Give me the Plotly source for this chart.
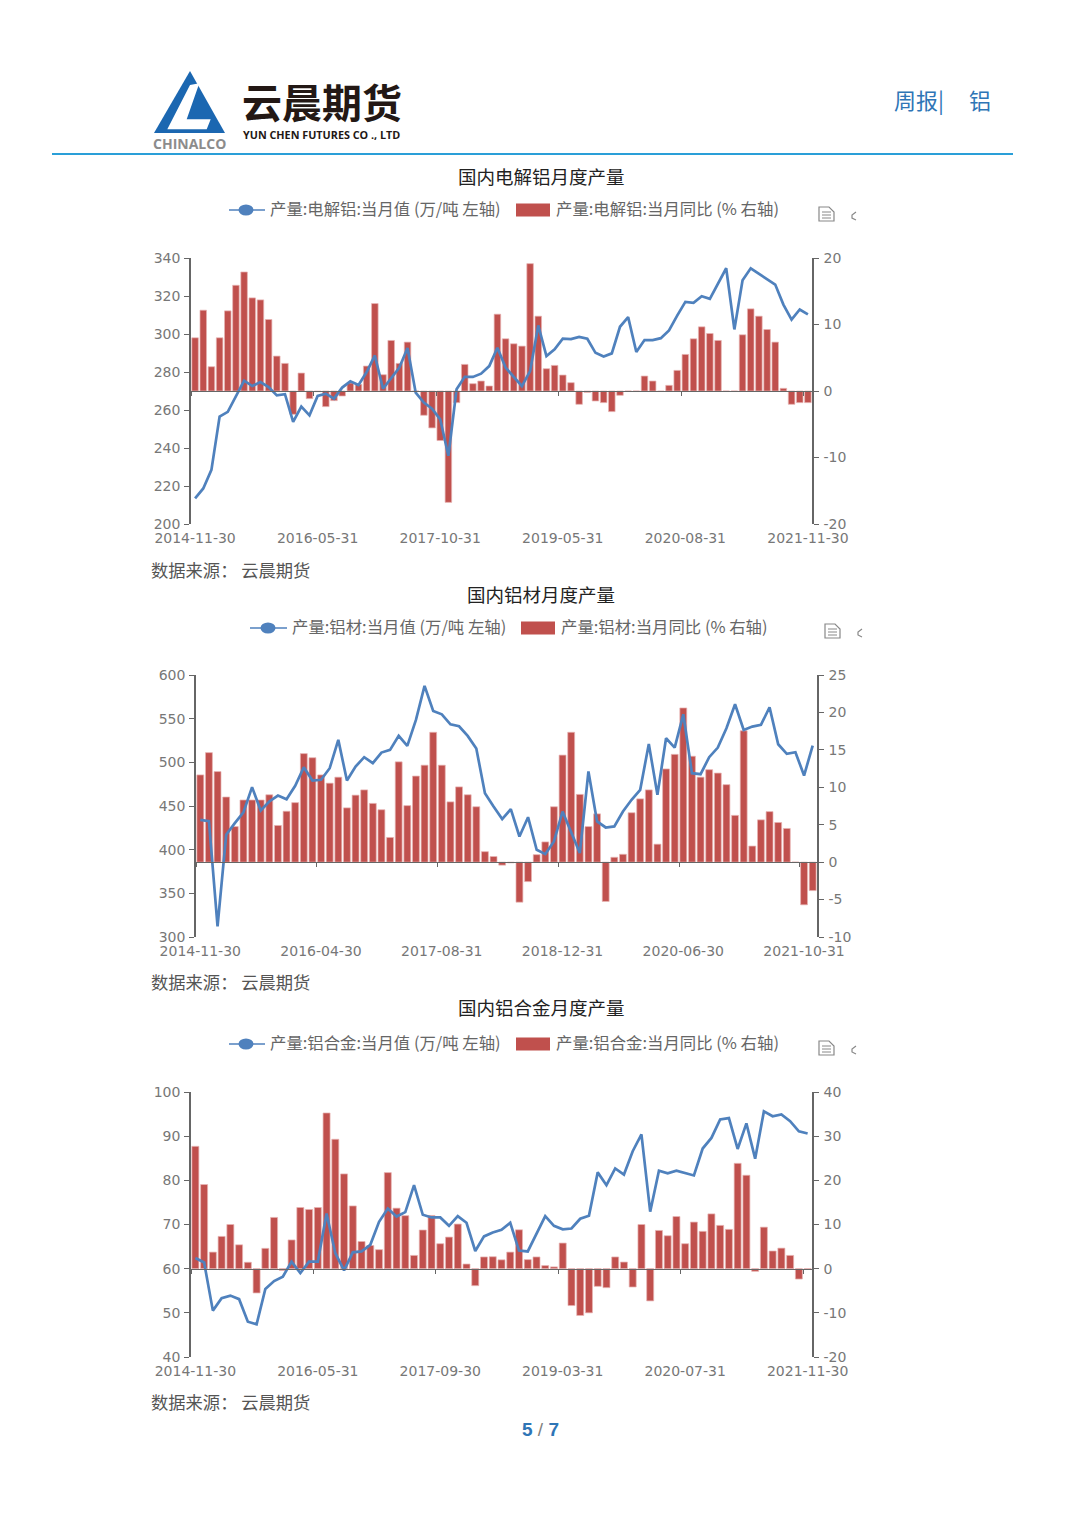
import plotly.graph_objects as go

W, H = 1080, 1526

# ---------- data ----------
cats_smelter = ["2014-11-30","2014-12-31","2015-03-31","2015-04-30","2015-05-31","2015-06-30","2015-07-31","2015-08-31","2015-09-30","2015-10-31","2015-11-30","2015-12-31",
 "2016-02-29","2016-03-31","2016-04-30","2016-05-31","2016-06-30","2016-07-31","2016-08-31","2016-09-30","2016-10-31","2016-11-30","2016-12-31",
 "2017-03-31","2017-04-30","2017-05-31","2017-06-30","2017-07-31","2017-08-31","2017-09-30","2017-10-31","2017-11-30","2017-12-31",
 "2018-03-31","2018-04-30","2018-05-31","2018-06-30","2018-07-31","2018-08-31","2018-09-30","2018-10-31","2018-11-30","2018-12-31",
 "2019-03-31","2019-04-30","2019-05-31","2019-06-30","2019-07-31","2019-08-31","2019-09-30","2019-10-31","2019-11-30","2019-12-31",
 "2020-01-31","2020-02-29","2020-03-31","2020-04-30","2020-05-31","2020-06-30","2020-07-31","2020-08-31","2020-09-30","2020-10-31","2020-11-30","2020-12-31",
 "2021-01-31","2021-02-28","2021-03-31","2021-04-30","2021-05-31","2021-06-30","2021-07-31","2021-08-31","2021-09-30","2021-10-31","2021-11-30"]
smelter_value = [213.5,218.7,228.5,256.5,259,267.4,275.4,272.6,274.7,272.1,267.7,268.3,253.7,261.8,257.2,267.4,268.6,266,271.8,275.1,273.2,280,288.7,271.2,277,282.3,292.6,269.1,263.9,260.7,255.1,235.9,270.9,277.5,277.4,279.1,283.1,292.8,
 282.3,277.5,272.6,280.5,304.5,288.4,291.9,297.5,297.3,298.5,297.5,290.1,288.2,289.8,303.8,308.9,290.5,296.8,296.8,297.8,301.9,309.7,316.9,316.4,319.9,318.5,326.9,334.6,302.4,328.3,334.6,331.8,329,326,315.5,307.6,312.9,310.3]
smelter_yoy = [8.0,12.15,3.65,8.0,12.05,15.9,17.9,14.0,13.7,10.75,5.25,4.15,-3.5,2.7,-1.15,-0.1,-2.35,-1.45,-0.75,1.2,1.0,3.75,13.15,2.45,7.6,4.15,7.35,0,-3.65,-5.55,-7.45,-16.75,-1.75,4.0,1.1,1.5,0.75,11.55,
 7.85,7.1,6.75,19.15,11.25,3.35,3.85,2.4,1.25,-2.0,-0.2,-1.5,-1.75,-3.1,-0.65,0,0,2.25,1.5,-0.05,0.85,3.1,5.5,7.85,9.65,8.65,7.6,0,0,8.45,12.35,11.25,9.25,7.35,0.4,-2.0,-1.75,-1.75]

cats_profile = ["2014-11-30","2014-12-31","2015-03-31","2015-04-30","2015-05-31","2015-06-30","2015-07-31","2015-08-31","2015-09-30","2015-10-31","2015-11-30","2015-12-31",
 "2016-02-29","2016-03-31","2016-04-30","2016-05-31","2016-06-30","2016-07-31","2016-08-31","2016-09-30","2016-10-31","2016-11-30","2016-12-31",
 "2017-03-31","2017-04-30","2017-05-31","2017-06-30","2017-07-31","2017-08-31","2017-09-30","2017-10-31","2017-11-30","2017-12-31",
 "2018-03-31","2018-04-30","2018-05-31","2018-06-30","2018-07-31","2018-08-31","2018-09-30","2018-10-31","2018-11-30","2018-12-31",
 "2019-03-31","2019-04-30","2019-05-31","2019-06-30","2019-07-31","2019-08-31","2019-09-30","2019-10-31","2019-11-30","2019-12-31",
 "2020-03-31","2020-04-30","2020-05-31","2020-06-30","2020-07-31","2020-08-31","2020-09-30","2020-10-31","2020-11-30","2020-12-31",
 "2021-03-31","2021-04-30","2021-05-31","2021-06-30","2021-07-31","2021-08-31","2021-09-30","2021-10-31","2021-11-30"]
profile_value = [434.2,432.7,312.2,417,430.4,442.6,471.6,444.9,455.2,462,457.8,473.1,494.4,479.2,480,493.3,525.7,479.2,495.2,505.9,499,511.2,514.3,530.3,518.8,548.6,587.5,558.9,555,543.6,541.3,530.3,515.8,464.7,449.4,
 435,446.4,415.1,437.2,399.9,394.9,409.4,443.7,420.9,396.1,489.5,432.3,425.4,426.6,443.7,457.1,468.5,521.1,462.8,527.6,516.9,555,487.6,486.4,505.9,516.9,539,566.5,537.1,540.9,542.9,563.1,520.7,509.7,511.6,484.9,519.2]
profile_yoy = [11.65,14.63,12.1,8.7,4.75,8.3,8.3,8.3,9.0,4.9,6.8,7.95,14.5,13.95,11.65,10.55,11.35,7.25,8.95,9.65,7.85,7.0,3.3,13.4,7.55,11.5,12.95,17.35,12.95,8.05,10.05,9.0,7.4,1.4,0.75,
 -0.4,-0.1,-5.35,-2.6,1.0,2.7,7.4,14.3,17.35,9.05,4.75,6.45,-5.25,0.65,1.05,6.6,8.45,9.65,2.4,12.45,14.4,20.6,14.15,11.35,12.35,11.9,10.35,6.25,17.55,2.15,5.65,6.75,5.3,4.5,0,-5.7,-3.8]

cats_alloy = ["2014-11-30","2014-12-31","2015-03-31","2015-04-30","2015-05-31","2015-06-30","2015-07-31","2015-08-31","2015-09-30","2015-10-31","2015-11-30","2015-12-31",
 "2016-03-31","2016-04-30","2016-05-31","2016-06-30","2016-07-31","2016-08-31","2016-09-30","2016-10-31","2016-11-30","2016-12-31",
 "2017-03-31","2017-04-30","2017-05-31","2017-06-30","2017-07-31","2017-08-31","2017-09-30","2017-10-31","2017-11-30","2017-12-31",
 "2018-03-31","2018-04-30","2018-05-31","2018-06-30","2018-07-31","2018-08-31","2018-09-30","2018-10-31","2018-11-30","2018-12-31",
 "2019-03-31","2019-04-30","2019-05-31","2019-06-30","2019-07-31","2019-08-31","2019-09-30","2019-10-31","2019-11-30","2019-12-31",
 "2020-03-31","2020-04-30","2020-05-31","2020-06-30","2020-07-31","2020-08-31","2020-09-30","2020-10-31","2020-11-30","2020-12-31",
 "2021-03-31","2021-04-30","2021-05-31","2021-06-30","2021-07-31","2021-08-31","2021-09-30","2021-10-31","2021-11-30"]
alloy_value = [62.4,61.4,50.5,53.3,53.9,53.1,48,47.4,55.4,57.2,58.2,61.6,59,61.6,61.6,72.5,63.5,59.6,63.7,63.9,65.4,70.6,73.6,71.8,72.8,78.9,72.2,71.6,71.6,69.7,71.9,70.4,64,67.3,68.2,
 68.8,70.4,64.1,63.9,68,71.9,69.7,68.9,69.1,71.3,72,81.8,78.9,82.7,81.3,86.6,90.4,72.9,82.2,81.6,82.2,81.6,81.1,87.2,89.6,93.8,94.1,87.1,92.9,84.9,95.6,94.5,94.9,93.4,91.1,90.6]
alloy_yoy = [27.7,19.05,3.75,7.3,10.0,5.4,1.45,-5.5,4.6,11.6,-0.4,6.5,13.85,13.4,13.85,35.25,29.3,21.45,14.2,6.15,5.25,4.3,21.75,13.7,12.0,3.0,8.75,12.05,5.65,7.15,10.1,1.05,-3.85,2.65,2.7,
 2.0,3.75,8.8,2.05,2.65,0.7,0.4,5.8,-8.35,-10.6,-10.0,-4.0,-4.3,2.65,1.5,-4.15,10,-7.3,8.65,7.45,11.8,5.65,10.55,8.45,12.4,9.8,8.9,23.85,21.15,-0.6,9.4,4.0,4.65,3.0,-2.35,-0.15]

ticks_smelter = ["2014-11-30","2016-05-31","2017-10-31","2019-05-31","2020-08-31","2021-11-30"]
ticks_profile = ["2014-11-30","2016-04-30","2017-08-31","2018-12-31","2020-06-30","2021-10-31"]
ticks_alloy = ["2014-11-30","2016-05-31","2017-09-30","2019-03-31","2020-07-31","2021-11-30"]

titles = ["国内电解铝月度产量", "国内铝材月度产量", "国内铝合金月度产量"]
legend_line = ["产量:电解铝:当月值 (万/吨 左轴)", "产量:铝材:当月值 (万/吨 左轴)", "产量:铝合金:当月值 (万/吨 左轴)"]
legend_bar = ["产量:电解铝:当月同比 (% 右轴)", "产量:铝材:当月同比 (% 右轴)", "产量:铝合金:当月同比 (% 右轴)"]
source_text = "数据来源： 云晨期货"

# ---------- styling / layout ----------
BLUE, RED, AXIS, TXT = "#4F81BD", "#C0504D", "#666666", "#777777"
TICKFONT = dict(family="DejaVu Sans", size=14, color=TXT)
CJK = "Noto Sans CJK SC"

def px(x): return x / W
def py(y): return 1 - y / H
def path(pts, close=True):
    d = "M" + " L".join(f"{px(x):.5f},{py(y):.5f}" for x, y in pts)
    return d + (" Z" if close else "")

charts = [
 dict(cats=cats_smelter, val=smelter_value, yoy=smelter_yoy, ticks=ticks_smelter, step=15,
      box=(191, 812, 258, 524), left=(200, 340, 20), right=(-20, 20, 10),
      ty=176, ly=210, sy=569, sw=(229, 265, 246, 268, 516, 550, 554), icon=(826, 214)),
 dict(cats=cats_profile, val=profile_value, yoy=profile_yoy, ticks=ticks_profile, step=14,
      box=(196, 817, 675, 937), left=(300, 600, 50), right=(-10, 25, 5),
      ty=594, ly=628, sy=982, sw=(250, 287, 268, 290, 521, 555, 559), icon=(832, 631)),
 dict(cats=cats_alloy, val=alloy_value, yoy=alloy_yoy, ticks=ticks_alloy, step=14,
      box=(191, 812, 1092, 1357), left=(40, 100, 10), right=(-20, 40, 10),
      ty=1007, ly=1044, sy=1401, sw=(229, 265, 246, 268, 516, 550, 554), icon=(826, 1048)),
]

fig = go.Figure()
layout = {}
shapes, annos = [], []

def text(x, y, s, size, color, anchor="left", family=CJK):
    annos.append(dict(x=px(x), y=py(y), xref="paper", yref="paper", text=s, showarrow=False,
                      xanchor=anchor, yanchor="middle", align=anchor,
                      font=dict(family=family, size=size, color=color)))

def yticks(lo, hi, step):
    vals = list(range(lo, hi + 1, step))
    return dict(tickmode="array", tickvals=vals, ticktext=[str(v) for v in vals])

for c, ch in enumerate(charts):
    b, l = 2 * c + 1, 2 * c + 2
    n = len(ch["cats"])
    x0, x1, y0, y1 = ch["box"]
    rlo, rhi, rstep = ch["right"]
    llo, lhi, lstep = ch["left"]
    zero_y = y1 - (0 - rlo) / (rhi - rlo) * (y1 - y0)
    fig.add_trace(go.Bar(x=ch["cats"], y=ch["yoy"], name=legend_bar[c], xaxis=f"x{b}", yaxis=f"y{b}",
                         marker=dict(color=RED, line=dict(color="rgba(232,180,178,0.9)", width=0.8)),
                         width=0.8, showlegend=False))
    fig.add_trace(go.Scatter(x=ch["cats"], y=ch["val"], name=legend_line[c], xaxis=f"x{l}", yaxis=f"y{l}",
                             mode="lines", line=dict(color=BLUE, width=2.7), showlegend=False))
    dom_x = [px(x0), px(x1)]
    dom_y = [py(y1), py(y0)]
    edge_ticks = [i * ch["step"] - 0.5 for i in range(6)]
    layout[f"xaxis{b}"] = dict(domain=dom_x, type="category", categoryorder="array", categoryarray=ch["cats"],
                               range=[-0.5, n - 0.5], anchor="free", position=py(zero_y), automargin=False,
                               showgrid=False, showline=True, linecolor=AXIS, linewidth=1,
                               tickmode="array", tickvals=edge_ticks, ticks="outside", ticklen=4,
                               tickcolor=AXIS, showticklabels=False, zeroline=False)
    layout[f"xaxis{l}"] = dict(domain=dom_x, type="category", categoryorder="array", categoryarray=ch["cats"],
                               range=[-0.5, n - 0.5], anchor=f"y{l}", overlaying=f"x{b}", automargin=False,
                               showgrid=False, showline=False, tickmode="array", tickvals=ch["ticks"],
                               ticktext=ch["ticks"], ticks="", tickangle=0, tickfont=TICKFONT, zeroline=False,
                               ticklabelstandoff=4)
    layout[f"yaxis{b}"] = dict(domain=dom_y, range=[rlo, rhi], side="right", automargin=False,
                               anchor=f"x{b}", showgrid=False, showline=True, linecolor=AXIS, linewidth=1.5,
                               ticks="outside", ticklen=5, tickcolor=AXIS, tickfont=TICKFONT, zeroline=False,
                               ticklabelstandoff=2, **yticks(rlo, rhi, rstep))
    layout[f"yaxis{l}"] = dict(domain=dom_y, range=[llo, lhi], side="left", automargin=False,
                               anchor=f"x{l}", overlaying=f"y{b}", showgrid=False, showline=True,
                               linecolor=AXIS, linewidth=1.5, ticks="outside", ticklen=5, tickcolor=AXIS,
                               tickfont=TICKFONT, zeroline=False, ticklabelstandoff=1, **yticks(llo, lhi, lstep))
    # title, legend, source
    text(541, ch["ty"], titles[c], 18.5, "#222222", "center")
    a, e, m, t1, r0, r1, t2 = ch["sw"]
    ly = ch["ly"]
    shapes.append(dict(type="line", xref="paper", yref="paper", x0=px(a), x1=px(e), y0=py(ly), y1=py(ly),
                       line=dict(color=BLUE, width=1.6)))
    shapes.append(dict(type="circle", xref="paper", yref="paper", x0=px(m - 7.5), x1=px(m + 7.5),
                       y0=py(ly + 5.5), y1=py(ly - 5.5), fillcolor=BLUE, line=dict(width=0)))
    shapes.append(dict(type="rect", xref="paper", yref="paper", x0=px(r0), x1=px(r1),
                       y0=py(ly + 6.5), y1=py(ly - 6.5), fillcolor=RED, line=dict(width=0)))
    text(t1, ly - 2, legend_line[c], 16.4, "#666666")
    text(t2, ly - 2, legend_bar[c], 16.4, "#666666")
    text(149, ch["sy"], source_text, 17.3, "#555555")
    # toolbox icons
    ix, iy = ch["icon"]
    shapes.append(dict(type="path", xref="paper", yref="paper",
                       path=path([(ix - 7, iy - 7), (ix + 3, iy - 7), (ix + 8, iy - 2), (ix + 8, iy + 7), (ix - 7, iy + 7)]),
                       line=dict(color="#888888", width=1.2)))
    for d in (-2, 1, 4):
        shapes.append(dict(type="line", xref="paper", yref="paper", x0=px(ix - 4), x1=px(ix + 5),
                           y0=py(iy + d), y1=py(iy + d), line=dict(color="#888888", width=1)))
    shapes.append(dict(type="path", xref="paper", yref="paper",
                       path=path([(ix + 30, iy - 2), (ix + 26, iy + 1), (ix + 26, iy + 4), (ix + 30, iy + 6)], close=False),
                       line=dict(color="#888888", width=1.2)))

# header
shapes.append(dict(type="path", xref="paper", yref="paper",
                   path=path([(190, 71), (154, 133), (225, 133)]), fillcolor="#1B67B1", line=dict(width=0)))
shapes.append(dict(type="path", xref="paper", yref="paper",
                   path=path([(190, 85), (199.3, 83.3), (186.7, 119.3), (210.7, 119.3), (206.7, 129.3), (167.3, 129.3)]),
                   fillcolor="white", line=dict(width=0)))
shapes.append(dict(type="line", xref="paper", yref="paper", x0=px(52), x1=px(1013), y0=py(154), y1=py(154),
                   line=dict(color="#2A9FD8", width=2)))
text(321.5, 101, "<b>云晨期货</b>", 40, "#231815", "center")
text(321, 134, "<b>YUN CHEN FUTURES CO ., LTD</b>", 10.8, "#231815", "center", "Open Sans")
text(189.5, 144, "<b>CHINALCO</b>", 14, "#8C8C8C", "center", "Open Sans")
text(892, 99, "周报|", 22, "#2E75B6")
text(967, 99, "铝", 22, "#2E75B6")
text(540, 1429, "<b>5</b><span style='color:#7F7F7F'> / </span><b>7</b>", 19, "#2E75B6", "center", "Liberation Sans")

fig.update_layout(width=W, height=H, autosize=False, margin=dict(l=0, r=0, t=0, b=0, pad=0, autoexpand=False),
                  paper_bgcolor="white", plot_bgcolor="rgba(0,0,0,0)", showlegend=False, bargap=0.2,
                  shapes=shapes, annotations=annos, **layout)

fig.write_html("out.html", config=dict(displayModeBar=False),
               post_script="document.body.style.margin='0';document.documentElement.style.overflow='hidden';")
